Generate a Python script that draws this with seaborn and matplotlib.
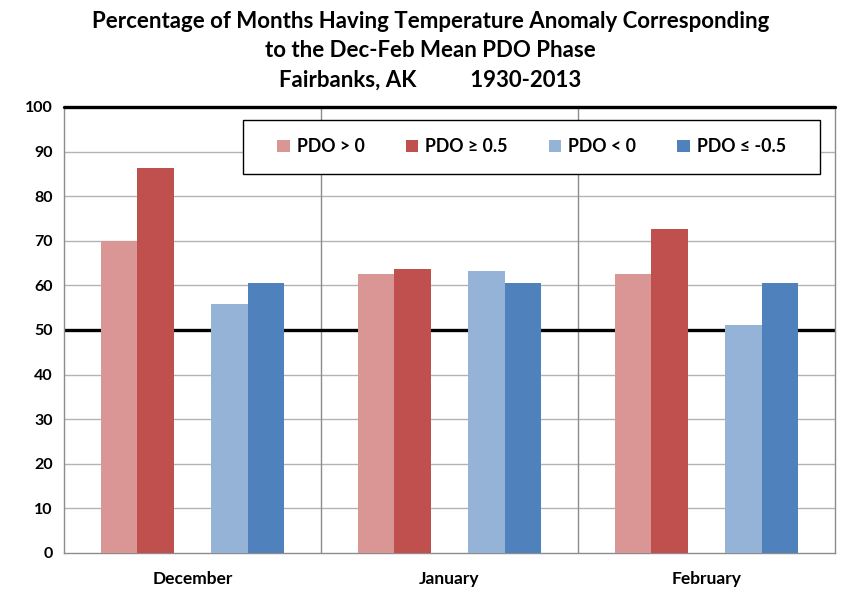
import pandas as pd
import seaborn as sns
import matplotlib.pyplot as plt
from matplotlib.patches import Patch, Rectangle

months = ['December', 'January', 'February']
phases = ['PDO > 0', 'PDO \u2265 0.5', ' ', 'PDO < 0', 'PDO \u2264 -0.5']
pdo_pos = [70.0, 62.5, 62.5]
pdo_pos_strong = [86.4, 63.6, 72.7]
pdo_neg = [55.9, 63.2, 51.2]
pdo_neg_strong = [60.6, 60.6, 60.6]

colors = {'PDO > 0': '#D99694', 'PDO \u2265 0.5': '#C0504D', ' ': 'white',
          'PDO < 0': '#95B3D7', 'PDO \u2264 -0.5': '#4F81BD'}

rows = []
for i, m in enumerate(months):
    rows.append((m, 'PDO > 0', pdo_pos[i]))
    rows.append((m, 'PDO \u2265 0.5', pdo_pos_strong[i]))
    rows.append((m, ' ', 0.0))
    rows.append((m, 'PDO < 0', pdo_neg[i]))
    rows.append((m, 'PDO \u2264 -0.5', pdo_neg_strong[i]))
df = pd.DataFrame(rows, columns=['Month', 'Phase', 'Pct'])

sns.set_style('white')
plt.rcParams['font.family'] = ['Lato', 'DejaVu Sans']
plt.rcParams['font.weight'] = 'bold'
plt.rcParams['text.color'] = 'black'
plt.rcParams['xtick.labelcolor'] = 'black'
plt.rcParams['ytick.labelcolor'] = 'black'

fig = plt.figure(figsize=(8.61, 6.01), dpi=100)
ax = fig.add_axes([0.0743, 0.080, 0.8955, 0.742])

sns.barplot(data=df, x='Month', y='Pct', hue='Phase', order=months,
            hue_order=phases, palette=colors, width=5 / 7, gap=0,
            saturation=1, errorbar=None, ax=ax, zorder=3, legend=False,
            linewidth=0)

ax.set_xlim(-0.5, 2.5)
ax.set_ylim(0, 100)
ax.set_yticks(range(0, 101, 10))
ax.set_xlabel('')
ax.set_ylabel('')

# grid lines
for y in range(10, 100, 10):
    if y == 50:
        continue
    ax.axhline(y, color='#b3b3b3', lw=1, zorder=1)
ax.axhline(50, color='black', lw=2.4, zorder=2)
ax.axhline(100, color='black', lw=2.4, zorder=4, clip_on=False)
for x in [0.5, 1.5]:
    ax.axvline(x, color='#8c8c8c', lw=1, zorder=1)

for s in ['left', 'bottom', 'right']:
    ax.spines[s].set_color('#8c8c8c')
    ax.spines[s].set_linewidth(1)
ax.spines['top'].set_visible(False)

ax.set_xticks([0, 1, 2])
ax.set_xticklabels(months, fontsize=12.5, fontweight='bold')
ax.set_xticks([-0.5, 0.5, 1.5, 2.5], minor=True)
ax.tick_params(axis='x', which='major', length=0, pad=13)
ax.tick_params(axis='x', which='minor', length=5, color='#8c8c8c', direction='out')
ax.tick_params(axis='y', length=5, color='#8c8c8c', direction='out',
               labelsize=11.5, pad=3)
for lab in ax.get_yticklabels():
    lab.set_fontweight('bold')

# legend box drawn separately so entries sit centred inside it
ax.add_patch(Rectangle((0.232, 0.850), 0.749, 0.121, transform=ax.transAxes,
                       facecolor='white', edgecolor='black', lw=1, zorder=5))
handles = [Patch(facecolor=colors[p], edgecolor='none', label=p)
           for p in phases if p.strip()]
leg = ax.legend(handles=handles, loc='center', ncol=4,
                bbox_to_anchor=(0.6065, 0.9105), frameon=False,
                handlelength=0.7, handleheight=0.7, handletextpad=0.4,
                columnspacing=2.3, prop={'size': 12.8, 'weight': 'bold'})
leg.set_zorder(6)

fig.suptitle('Percentage of Months Having Temperature Anomaly Corresponding\n'
             'to the Dec-Feb Mean PDO Phase\n'
             'Fairbanks, AK          1930-2013',
             x=0.5, y=0.982, fontsize=16, fontweight='bold', linespacing=1.5)

fig.savefig('out.png', dpi=100)
